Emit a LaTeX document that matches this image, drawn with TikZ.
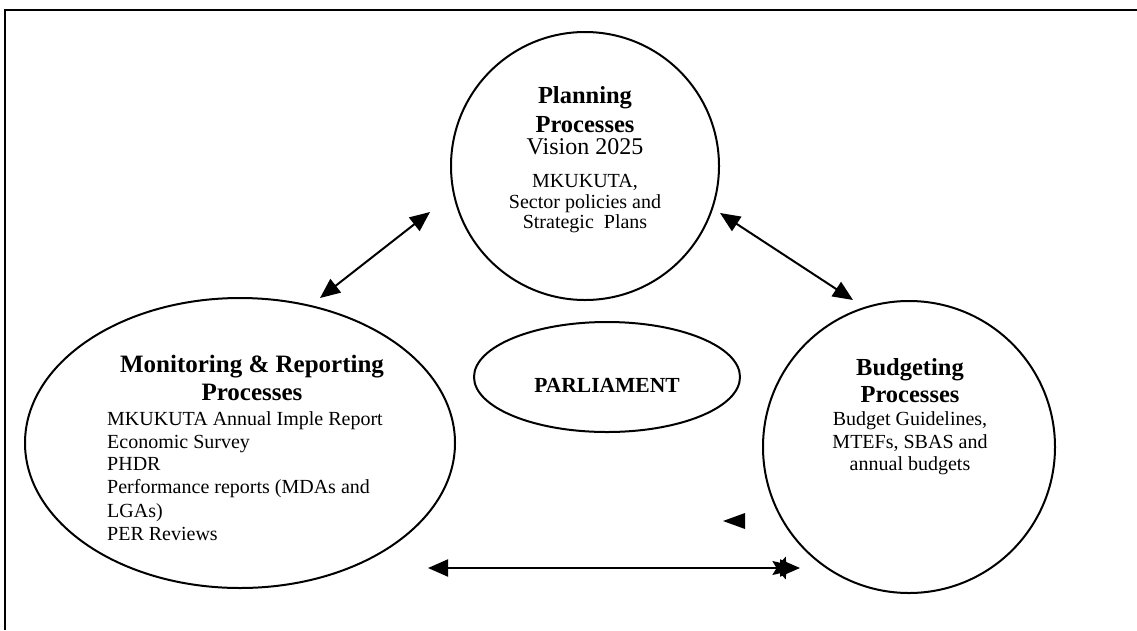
\documentclass[tikz,border=0pt]{standalone}
\usepackage{fontspec}
\setmainfont{Liberation Serif}
\usetikzlibrary{arrows.meta,shapes.geometric}
\newcommand\fsz[1]{\fontsize{#1}{#1}\selectfont}
\begin{document}
\begin{tikzpicture}[x=1pt,y=-1pt,
  procshape/.style={draw,line width=2pt,inner sep=0},
  ctext/.style={anchor=base,inner sep=0},
  ltext/.style={anchor=base west,inner sep=0},
  hd/.style={font=\fsz{24.5}\bfseries},
  bd/.style={font=\fsz{20}},
  link/.style={line width=2pt,{Triangle[length=20pt,width=17pt]}-{Triangle[length=20pt,width=17pt]}}
]
\useasboundingbox (0,0) rectangle (1137,630);
% frame
\draw[line width=2.2pt] (5,630) -- (5,10) -- (1137,10);
% shapes
\node[procshape,circle,minimum size=268pt] (plan) at (585,166) {};
\node[procshape,ellipse,minimum width=430pt,minimum height=290pt] (mon) at (240,443) {};
\node[procshape,circle,minimum size=292pt] (budg) at (909,447) {};
\node[procshape,ellipse,minimum width=266pt,minimum height=110pt] (parl) at (607,377) {};
% planning text
\node[ctext,hd] (p1) at (585,103) {Planning};
\node[ctext,hd] (p2) at (585,132) {Processes};
\node[ctext,font=\fsz{24}] (p3) at (585,154) {Vision 2025};
\node[ctext,bd] (p4) at (585,187) {MKUKUTA,};
\node[ctext,bd] (p5) at (585,208) {Sector policies and};
\node[ctext,bd] (p6) at (585,228) {Strategic\ \ Plans};
% monitoring text
\node[ctext,font=\fsz{25}\bfseries] (m1) at (252,372) {Monitoring \& Reporting};
\node[ctext,font=\fsz{25}\bfseries] (m2) at (252,400) {Processes};
\node[ltext,bd] (m3) at (107,425) {MKUKUTA Annual Imple Report};
\node[ltext,bd] (m4) at (107,448) {Economic Survey};
\node[ltext,bd] (m5) at (107,470) {PHDR};
\node[ltext,bd] (m6) at (107,493) {Performance reports (MDAs and};
\node[ltext,bd] (m7) at (107,517) {LGAs)};
\node[ltext,bd] (m8) at (107,540) {PER Reviews};
% budgeting text
\node[ctext,hd] (b1) at (910,375) {Budgeting};
\node[ctext,hd] (b2) at (910,402) {Processes};
\node[ctext,bd] (b3) at (910,425) {Budget Guidelines,};
\node[ctext,bd] (b4) at (910,448) {MTEFs, SBAS and};
\node[ctext,bd] (b5) at (910,470) {annual budgets};
% parliament
\node[ctext,font=\fsz{21.5}\bfseries] (pt) at (607,392) {PARLIAMENT};
% connectors
\coordinate (a1s) at (320,298);
\coordinate (a1e) at (430,212);
\coordinate (a2s) at (720,213);
\coordinate (a2e) at (853,300);
\coordinate (a3s) at (428,568);
\coordinate (a3e) at (800,568);
\draw[link] (a1s) -- (a1e);
\draw[link] (a2s) -- (a2e);
\draw[link] (a3s) -- (a3e);
\node[star,star points=5,star point ratio=2.2,fill=black,minimum size=24pt,inner sep=0,rotate=-18] (st) at (782,568) {};
% stray arrowhead
\fill (723,521) -- (745,513) -- (745,529) -- cycle;
\end{tikzpicture}
\end{document}
